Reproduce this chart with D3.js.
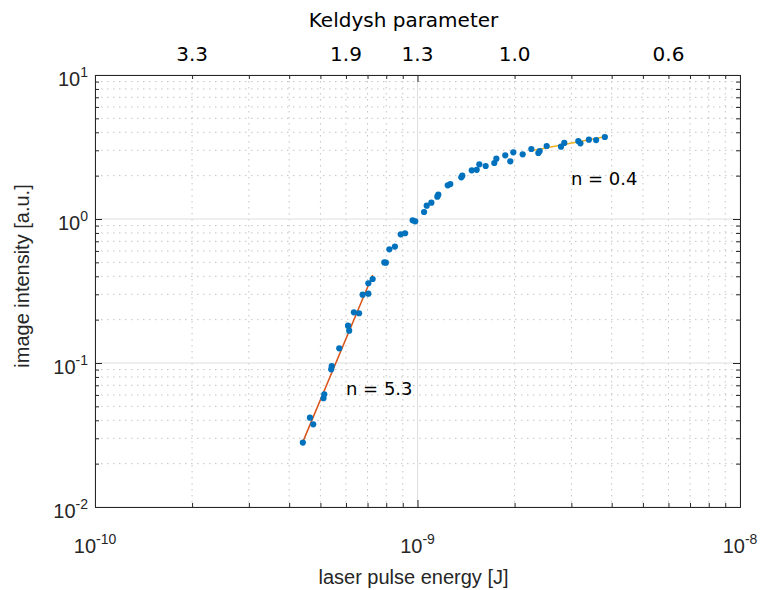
<!DOCTYPE html>
<html>
<head>
<meta charset="utf-8">
<script src="https://cdn.jsdelivr.net/npm/d3@7"></script>
<style>
  body { margin: 0; background: #fff; }
</style>
</head>
<body>
<div id="my_dataviz"></div>
<script>

// measured points (laser pulse energy [J], image intensity [a.u.])
var energy = [4.41e-10, 4.64e-10, 4.75e-10, 5.11e-10, 5.14e-10, 5.40e-10, 5.42e-10, 5.72e-10,
              6.09e-10, 6.14e-10, 6.35e-10, 6.59e-10, 6.76e-10, 7.04e-10, 7.04e-10, 7.26e-10,
              7.89e-10, 7.98e-10, 8.18e-10, 8.51e-10, 8.87e-10, 9.15e-10, 9.66e-10, 9.84e-10,
              1.048e-9, 1.068e-9, 1.104e-9, 1.152e-9, 1.160e-9, 1.241e-9, 1.264e-9, 1.367e-9,
              1.377e-9, 1.473e-9, 1.526e-9, 1.555e-9, 1.627e-9, 1.730e-9, 1.756e-9, 1.871e-9,
              1.940e-9, 1.982e-9, 2.119e-9, 2.254e-9, 2.370e-9, 2.393e-9, 2.515e-9, 2.786e-9,
              2.852e-9, 3.152e-9, 3.20e-9, 3.40e-9, 3.58e-9, 3.81e-9];
var intensity = [0.0280, 0.0417, 0.0375, 0.0569, 0.0606, 0.0904, 0.0953, 0.1265,
                 0.1816, 0.1677, 0.225, 0.2215, 0.298, 0.303, 0.358, 0.383,
                 0.499, 0.497, 0.616, 0.643, 0.783, 0.796, 0.979, 0.964,
                 1.118, 1.237, 1.298, 1.429, 1.476, 1.714, 1.749, 1.948,
                 1.998, 2.178, 2.197, 2.397, 2.334, 2.448, 2.624, 2.77,
                 2.516, 2.904, 2.814, 3.062, 2.873, 2.965, 3.214, 3.18,
                 3.375, 3.48, 3.356, 3.553, 3.53, 3.71];

// power law fits (end points)
var fitLowE = [4.40e-10, 7.26e-10], fitLowI = [0.028, 0.408];
var fitHighE = [2.25e-9, 3.88e-9], fitHighI = [2.98, 3.75];

// Keldysh parameter on the top axis
var keldyshE = [2e-10, 6e-10, 1e-9, 2e-9, 6e-9];
var keldyshLabels = ["3.3", "1.9", "1.3", "1.0", "0.6"];

// decade labels
var xDecades = [1e-10, 1e-9, 1e-8];
var yDecades = [1e-2, 1e-1, 1e0, 1e1];

var axisColor = "#262626";

// set the dimensions and margins of the graph
var margin = {top: 75, right: 20, bottom: 83, left: 95},
    width = 760 - margin.left - margin.right,
    height = 590 - margin.top - margin.bottom;

var svgRoot = d3.select("#my_dataviz")
  .append("svg")
    .attr("width", width + margin.left + margin.right)
    .attr("height", height + margin.top + margin.bottom);
var svg = svgRoot.append("g")
    .attr("transform", "translate(" + margin.left + "," + margin.top + ")");

var x = d3.scaleLog().domain([1e-10, 1e-8]).range([0, width]);
var y = d3.scaleLog().domain([1e-2, 1e1]).range([height, 0]);

function isDecade(v) { return Math.abs(Math.log10(v) - Math.round(Math.log10(v))) < 1e-6; }
var xAll = x.ticks(), yAll = y.ticks();
var xMinor = xAll.filter(function(d) { return !isDecade(d); });
var yMinor = yAll.filter(function(d) { return !isDecade(d); });

// minor grid (dotted)
svg.append("g").selectAll("line").data(xMinor).enter().append("line")
  .attr("x1", function(d) { return x(d); }).attr("x2", function(d) { return x(d); })
  .attr("y1", 0).attr("y2", height)
  .attr("stroke", "#c4c4c4").attr("stroke-dasharray", "1.5,4.5");
svg.append("g").selectAll("line").data(yMinor).enter().append("line")
  .attr("y1", function(d) { return y(d); }).attr("y2", function(d) { return y(d); })
  .attr("x1", 0).attr("x2", width)
  .attr("stroke", "#c4c4c4").attr("stroke-dasharray", "1.5,4.5");

// major grid
svg.append("g").selectAll("line").data(xDecades).enter().append("line")
  .attr("x1", function(d) { return x(d); }).attr("x2", function(d) { return x(d); })
  .attr("y1", 0).attr("y2", height)
  .attr("stroke", "#dedede");
svg.append("g").selectAll("line").data(yDecades).enter().append("line")
  .attr("y1", function(d) { return y(d); }).attr("y2", function(d) { return y(d); })
  .attr("x1", 0).attr("x2", width)
  .attr("stroke", "#dedede");

// axes with inward ticks (minor short, major longer)
function drawAxis(axisFn, scale, values, size, transform) {
  var g = svg.append("g")
    .attr("transform", transform)
    .call(axisFn(scale).tickValues(values).tickSizeInner(-size).tickSizeOuter(0).tickFormat(""));
  g.selectAll("line").attr("stroke", axisColor);
  g.select(".domain").attr("stroke", axisColor);
  return g;
}
drawAxis(d3.axisBottom, x, xMinor, 4, "translate(0," + height + ")");
drawAxis(d3.axisBottom, x, xDecades, 7, "translate(0," + height + ")");
drawAxis(d3.axisTop, x, xMinor, 4, "translate(0,0)");
drawAxis(d3.axisTop, x, xDecades, 7, "translate(0,0)");
drawAxis(d3.axisLeft, y, yMinor, 4, "translate(0,0)");
drawAxis(d3.axisLeft, y, yDecades, 7, "translate(0,0)");
drawAxis(d3.axisRight, y, yMinor, 4, "translate(" + width + ",0)");
drawAxis(d3.axisRight, y, yDecades, 7, "translate(" + width + ",0)");

// decade tick labels with superscripts
var xLab = svg.append("g").selectAll("text").data(xDecades).enter().append("text")
  .attr("x", function(d) { return x(d); })
  .attr("y", height + 46)
  .attr("text-anchor", "middle")
  .style("font-family", "'Liberation Sans', Arial, sans-serif")
  .style("font-size", "20px")
  .attr("fill", axisColor);
xLab.append("tspan").text("10");
xLab.append("tspan").attr("dy", -9).style("font-size", "14px")
  .text(function(d) { return Math.round(Math.log10(d)); });

var yLab = svg.append("g").selectAll("text").data(yDecades).enter().append("text")
  .attr("x", -7)
  .attr("y", function(d) { return y(d) + 11; })
  .attr("text-anchor", "end")
  .style("font-family", "'Liberation Sans', Arial, sans-serif")
  .style("font-size", "20px")
  .attr("fill", axisColor);
yLab.append("tspan").text("10");
yLab.append("tspan").attr("dy", -9).style("font-size", "14px")
  .text(function(d) { return Math.round(Math.log10(d)); });

// Keldysh labels on top
svg.append("g").selectAll("text").data(keldyshE).enter().append("text")
  .attr("x", function(d) { return x(d); })
  .attr("y", -14)
  .attr("text-anchor", "middle")
  .style("font-family", "'DejaVu Sans', Verdana, sans-serif")
  .style("font-size", "20px")
  .attr("fill", "#000")
  .text(function(d, i) { return keldyshLabels[i]; });

// text label for the top axis
svg.append("text")
  .attr("x", width / 2 - 14)
  .attr("y", -48)
  .attr("text-anchor", "middle")
  .style("font-family", "'DejaVu Sans', Verdana, sans-serif")
  .style("font-size", "20px")
  .text("Keldysh parameter");

// text label for the x axis
svg.append("text")
  .attr("x", width / 2 - 4)
  .attr("y", height + 77)
  .attr("text-anchor", "middle")
  .style("font-family", "'Liberation Sans', Arial, sans-serif")
  .style("font-size", "20px")
  .attr("fill", axisColor)
  .text("laser pulse energy [J]");

// text label for the y axis
svg.append("text")
  .attr("transform", "rotate(-90)")
  .attr("x", -(height / 2) + 15)
  .attr("y", -66)
  .attr("text-anchor", "middle")
  .style("font-family", "'Liberation Sans', Arial, sans-serif")
  .style("font-size", "20px")
  .attr("fill", axisColor)
  .text("image intensity [a.u.]");

// fit lines
var line = d3.line()
  .x(function(d) { return x(d[0]); })
  .y(function(d) { return y(d[1]); });
svg.append("path")
  .datum(d3.zip(fitLowE, fitLowI))
  .attr("d", line)
  .attr("stroke", "#D95319").style("stroke-width", 1.5).style("fill", "none");
svg.append("path")
  .datum(d3.zip(fitHighE, fitHighI))
  .attr("d", line)
  .attr("stroke", "#EDB120").style("stroke-width", 1.5).style("fill", "none");

// data points
svg.append("g").selectAll("circle").data(d3.zip(energy, intensity)).enter().append("circle")
  .attr("cx", function(d) { return x(d[0]); })
  .attr("cy", function(d) { return y(d[1]); })
  .attr("r", 3.1)
  .attr("fill", "#0072BD");

// annotations
svg.append("text")
  .attr("x", x(6.0e-10)).attr("y", y(0.060))
  .style("font-family", "'DejaVu Sans', Verdana, sans-serif")
  .style("font-size", "18px")
  .text("n = 5.3");
svg.append("text")
  .attr("x", x(2.99e-9)).attr("y", y(1.72))
  .style("font-family", "'DejaVu Sans', Verdana, sans-serif")
  .style("font-size", "18px")
  .text("n = 0.4");

</script>
</body>
</html>
